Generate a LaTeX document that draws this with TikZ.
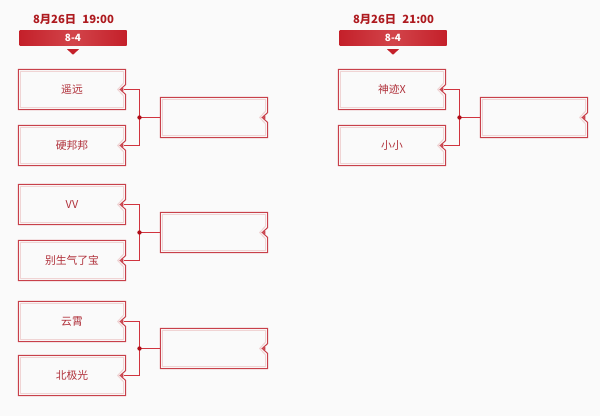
\documentclass[tikz,border=0pt]{standalone}
\usepackage{fontspec}
\newfontfamily\cjk{Noto Sans CJK SC}
\usetikzlibrary{calc}
\definecolor{framered}{HTML}{C8404A}
\definecolor{framepink}{HTML}{F0D4D4}
\definecolor{txtred}{HTML}{B0303A}
\definecolor{datered}{HTML}{AE1A1F}
\definecolor{barred}{HTML}{C4202A}
\definecolor{barlight}{HTML}{D2444A}
\definecolor{connred}{HTML}{D0343E}
\definecolor{dotred}{HTML}{B00E18}
\definecolor{bgcol}{HTML}{FAFAFA}
\tikzset{
  teambox/.style={minimum width=107pt, minimum height=40pt, inner sep=0pt,
    font=\cjk\fontsize{10.8}{12}\selectfont, text=txtred},
  resultbox/.style={minimum width=107pt, minimum height=40pt, inner sep=0pt},
  frameout/.style={draw=framered, line width=1pt, line join=miter},
  framein/.style={draw=framepink, line width=1pt},
  linkline/.style={draw=connred, line width=1.3pt},
  datetext/.style={font=\cjk\bfseries\fontsize{11.3}{13}\selectfont, text=datered, inner sep=0pt},
  barbox/.style={minimum width=107pt, minimum height=15pt, inner sep=0pt,
    font=\cjk\bfseries\fontsize{10}{12}\selectfont, text=white,
    left color=barred, right color=barred, middle color=barlight},
}
\newcommand\tframe[1]{%
  \draw[framein] ($(#1.north west)+(2,2)$) -- ($(#1.north east)+(-2,2)$)
    -- ($(#1.east)+(-2,-6.5)$) -- ($(#1.east)+(-8,0)$) -- ($(#1.east)+(-2,6.5)$)
    -- ($(#1.south east)+(-2,-2)$) -- ($(#1.south west)+(2,-2)$) -- cycle;
  \draw[frameout] (#1.north west) -- (#1.north east) -- ($(#1.east)+(0,-5)$)
    -- ($(#1.east)+(-5.5,0)$) -- ($(#1.east)+(0,5)$) -- (#1.south east)
    -- (#1.south west) -- cycle;
  \fill[framered] ($(#1.east)+(-4.6,0)$) -- ($(#1.east)+(-2.4,-2)$)
    -- ($(#1.east)+(-2.4,2)$) -- cycle;
}
\begin{document}
\begin{tikzpicture}[x=1pt,y=-1pt]
\useasboundingbox (0,0) rectangle (600,416);
\fill[bgcol] (0,0) rectangle (600,416);

% ---------- left column ----------
\node[datetext] (d1) at (73.5,19) {8月26日\hspace{0.55em}19:00};
\node[barbox] (h1) at (73,37.5) {8-4};
\coordinate (h1t) at ($(h1.south)+(0,4)$);
\fill[barred] ($(h1t)+(-6,0)$) -- ($(h1t)+(6,0)$) -- ($(h1t)+(0,5.5)$) -- cycle;

\node[teambox] (a1) at (72,89.5) {遥远};
\node[teambox] (b1) at (72,145.5) {硬邦邦};
\node[resultbox] (r1) at (214,117.5) {};
\coordinate (j1) at (139.5,117.5);

\node[teambox] (a2) at (72,204.5) {VV};
\node[teambox] (b2) at (72,260.5) {别生气了宝};
\node[resultbox] (r2) at (214,232.5) {};
\coordinate (j2) at (139.5,232.5);

\node[teambox] (a3) at (72,321.5) {云霄};
\node[teambox] (b3) at (72,375.5) {北极光};
\node[resultbox] (r3) at (214,348.5) {};
\coordinate (j3) at (139.5,348.5);

% ---------- right column ----------
\node[datetext] (d2) at (393.5,19) {8月26日\hspace{0.55em}21:00};
\node[barbox] (h2) at (393,37.5) {8-4};
\coordinate (h2t) at ($(h2.south)+(0,4)$);
\fill[barred] ($(h2t)+(-6,0)$) -- ($(h2t)+(6,0)$) -- ($(h2t)+(0,5.5)$) -- cycle;

\node[teambox] (a4) at (392,89.5) {神迹X};
\node[teambox] (b4) at (392,145.5) {小小};
\node[resultbox] (r4) at (534,117.5) {};
\coordinate (j4) at (459.5,117.5);

\foreach \n in {a1,b1,r1,a2,b2,r2,a3,b3,r3,a4,b4,r4} {\tframe{\n}}

\foreach \ta/\tb/\tj/\tr in {a1/b1/j1/r1, a2/b2/j2/r2, a3/b3/j3/r3, a4/b4/j4/r4} {
  \path[linkline] ($(\ta.east)+(-2.2,0)$) -| (\tj) |- ($(\tb.east)+(-2.2,0)$);
  \path[linkline] (\tj) -- (\tr.west);
  \fill[dotred] (\tj) circle (2.2);
}
\end{tikzpicture}
\end{document}
